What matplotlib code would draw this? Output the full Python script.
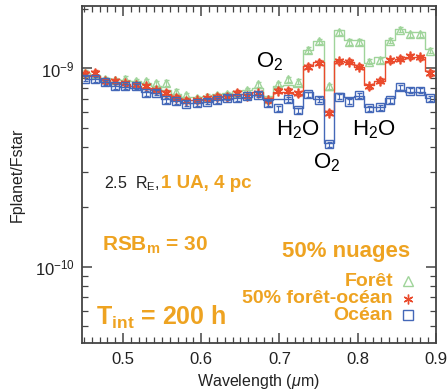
import numpy as np
import matplotlib
matplotlib.use('Agg')
import matplotlib.pyplot as plt
from matplotlib.ticker import MultipleLocator, LogLocator, NullFormatter

plt.rcParams['font.family'] = ['Liberation Sans', 'DejaVu Sans']
plt.rcParams['mathtext.fontset'] = 'custom'
plt.rcParams['mathtext.rm'] = 'Liberation Sans'
plt.rcParams['mathtext.it'] = 'Liberation Sans:italic'
plt.rcParams['mathtext.bf'] = 'Liberation Sans:bold'

# wavelength bins (micron)
wl = [0.451, 0.464, 0.477, 0.490, 0.503, 0.516, 0.529, 0.542, 0.555, 0.568,
      0.581, 0.594, 0.607, 0.620, 0.633, 0.646, 0.659, 0.672, 0.685, 0.698,
      0.711, 0.724, 0.737, 0.750, 0.763, 0.776, 0.789, 0.802, 0.815, 0.828,
      0.841, 0.854, 0.867, 0.880, 0.893]

# models (units of 1e-10)
foret_mod = [9.5, 9.3, 9.0, 8.8, 8.7, 8.6, 8.4, 8.2, 7.8, 7.45,
             7.2, 7.15, 7.25, 7.4, 7.55, 7.7, 7.75, 8.0, 7.3, 8.2,
             8.3, 8.1, 12.4, 13.7, 7.8, 15.7, 13.9, 13.9, 10.6, 11.4,
             14.0, 15.9, 15.3, 15.3, 12.6]
mix_mod = [9.3, 9.2, 8.7, 8.5, 8.35, 8.2, 8.0, 7.75, 7.4, 7.1,
           6.9, 6.9, 7.0, 7.15, 7.3, 7.4, 7.45, 7.6, 7.1, 7.6,
           7.6, 7.4, 10.3, 10.8, 6.0, 10.9, 10.8, 10.2, 8.3, 8.6,
           10.9, 11.2, 11.4, 11.4, 9.7]
ocean_mod = [8.9, 8.8, 8.5, 8.2, 8.1, 8.0, 7.6, 7.5, 7.0, 6.85,
             6.7, 6.7, 6.8, 6.9, 7.05, 7.1, 7.2, 7.35, 6.9, 7.0,
             7.0, 6.3, 7.6, 7.0, 4.2, 7.5, 7.15, 7.25, 6.4, 6.4,
             7.1, 7.8, 7.6, 7.6, 7.1]

# simulated observations (units of 1e-10)
foret_obs = [9.5, 9.4, 8.8, 8.73, 8.9, 8.63, 8.63, 8.4, 8.45, 7.62,
             7.34, 7.06, 7.19, 7.34, 7.42, 7.48, 7.77, 8.34, 6.98, 8.34,
             8.8, 8.57, 12.4, 13.7, 8.14, 15.2, 13.6, 13.6, 10.8, 11.0,
             13.8, 15.7, 14.9, 14.9, 12.3]
mix_obs = [9.4, 9.5, 8.63, 8.63, 8.4, 8.24, 8.14, 7.77, 7.53, 7.11,
           6.87, 6.9, 7.06, 7.19, 7.19, 7.53, 7.25, 7.5, 6.92, 7.71,
           7.71, 7.48, 10.2, 10.7, 5.97, 10.9, 10.8, 10.2, 8.14, 8.66,
           11.0, 11.2, 11.5, 11.4, 9.5]
ocean_obs = [8.9, 8.8, 8.5, 8.14, 8.14, 8.14, 7.48, 7.55, 6.9, 6.82,
             6.63, 6.66, 6.79, 6.9, 7.12, 7.06, 7.25, 7.38, 6.66, 6.29,
             6.98, 6.16, 7.4, 6.95, 4.14, 7.19, 6.79, 7.34, 6.29, 6.36,
             6.92, 8.02, 7.71, 7.71, 7.06]

orange = '#eea321'
c_g = '#9fd49a'
c_r = '#ea4a2c'
c_b = '#4468b8'

wl = np.array(wl)
fig = plt.figure(figsize=(4.48, 3.92), dpi=100)
ax = fig.add_axes([0.182, 0.124, 0.791, 0.860])

series = [(foret_mod, foret_obs, c_g, '^'),
          (mix_mod, mix_obs, c_r, (6, 2, 0)),
          (ocean_mod, ocean_obs, c_b, 's')]
for mod, obs, col, mk in series:
    mod = np.array(mod) * 1e-10
    obs = np.array(obs) * 1e-10
    ax.plot(wl, mod, drawstyle='steps-mid', color=col, lw=1.0)
    ax.errorbar(wl, obs, yerr=obs * 0.03, fmt='none', ecolor=col,
                elinewidth=0.8, capsize=1.8)
    if mk == 's' or mk == '^':
        ax.plot(wl, obs, ls='none', marker=mk, ms=5.5, mfc='none',
                mec=col, mew=1.0)
    else:
        ax.plot(wl, obs, ls='none', marker=mk, ms=7, color=col, mew=1.2)

ax.set_yscale('log')
ax.set_xlim(0.447, 0.9)
ax.set_ylim(4.1e-11, 2.06e-9)
ax.xaxis.set_major_locator(MultipleLocator(0.1))
ax.xaxis.set_minor_locator(MultipleLocator(0.01))
ax.yaxis.set_major_locator(LogLocator(base=10))
ax.yaxis.set_minor_locator(LogLocator(base=10, subs=np.arange(2, 10)))
ax.yaxis.set_minor_formatter(NullFormatter())
ax.tick_params(which='both', direction='in', top=True, right=True,
               color='#444444', labelsize=12, labelcolor='#222222')
ax.tick_params(which='major', length=7, width=1.1)
ax.tick_params(which='minor', length=4, width=0.9)
ax.tick_params(axis='x', which='major', pad=6)
ax.tick_params(axis='y', which='major', pad=5)
for s in ax.spines.values():
    s.set_color('#444444')
    s.set_linewidth(1.3)

ax.set_xlabel('Wavelength ($\\mu$m)', fontsize=11.5, color='#222222', labelpad=4)
ax.set_ylabel('Fplanet/Fstar', fontsize=11.5, color='#222222', labelpad=7)

# molecular features
ax.text(0.687, 1.08e-9, 'O$_2$', fontsize=16, ha='center', va='center')
ax.text(0.723, 4.9e-10, 'H$_2$O', fontsize=16, ha='center', va='center')
ax.text(0.761, 3.35e-10, 'O$_2$', fontsize=16, ha='center', va='center')
ax.text(0.821, 4.9e-10, 'H$_2$O', fontsize=16, ha='center', va='center')

tr = ax.transAxes
ax.text(0.063, 0.475, '2.5  R$_\\mathrm{E}$,', transform=tr, fontsize=11.5,
        color='#222222', va='center')
ax.text(0.225, 0.475, '1 UA, 4 pc', transform=tr, fontsize=13.5,
        fontweight='bold', color=orange, va='center')
ax.text(0.059, 0.291, 'RSB$_\\mathbf{m}$ = 30', transform=tr, fontsize=15,
        fontweight='bold', color=orange, va='center')
ax.text(0.04, 0.078, 'T$_\\mathbf{int}$ = 200 h', transform=tr, fontsize=18,
        fontweight='bold', color=orange, va='center')
ax.text(0.927, 0.272, '50% nuages', transform=tr, fontsize=16,
        fontweight='bold', color=orange, va='center', ha='right')

labels = ['Forêt', '50% forêt-océan', 'Océan']
ly = [0.185, 0.133, 0.084]
for (mod, obs, col, mk), lab, yy in zip(series, labels, ly):
    ax.text(0.879, yy, lab, transform=tr, fontsize=14, fontweight='bold',
            color=orange, va='center', ha='right')
    if mk == 's' or mk == '^':
        ax.plot([0.922], [yy], transform=tr, marker=mk, ms=6.5, mfc='none',
                mec=col, mew=1.0, ls='none')
    else:
        ax.plot([0.922], [yy], transform=tr, marker=mk, ms=7, color=col,
                mew=1.0, ls='none')

fig.savefig('out.png', dpi=100)
